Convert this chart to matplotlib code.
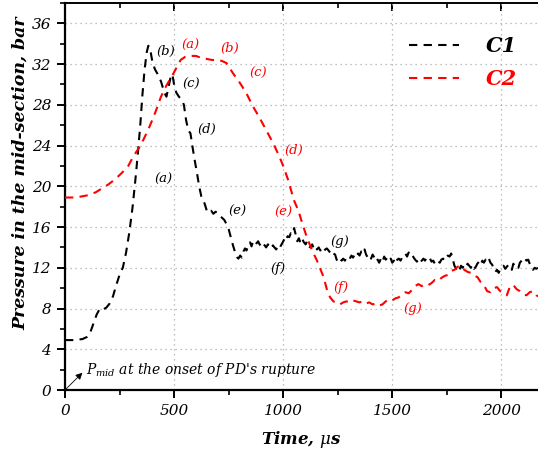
import numpy as np
import matplotlib
matplotlib.use("Agg")
import matplotlib.pyplot as plt
from matplotlib.ticker import MultipleLocator

plt.rcParams["mathtext.fontset"] = "dejavuserif"

# ---- data: mid-section pressure histories (time in microseconds, pressure in bar)
c1_time = [
    0, 40, 80, 100, 115, 130, 145, 160, 175, 190, 205, 220, 235, 250, 265, 280,
    295, 310, 322, 333, 345, 355, 365, 375, 382, 390, 400, 412, 425, 440, 455,
    465, 475, 485, 492, 500, 510, 522, 535, 545, 555, 565, 575, 585, 595, 605,
    615, 625, 640, 650, 660, 670, 680, 690, 700, 710, 720, 730, 740, 750, 760,
    770, 780, 790, 795, 803, 810, 818, 825, 832, 840, 848, 855, 862, 870, 878,
    885, 892, 900, 908, 915, 922, 930, 938, 945, 953, 960, 968, 975, 983, 990,
    998, 1005, 1012, 1020, 1028, 1035, 1042, 1050, 1058, 1065, 1072, 1080, 1088,
    1095, 1103, 1110, 1118, 1125, 1133, 1140, 1148, 1155, 1163, 1170, 1178, 1185,
    1193, 1200, 1208, 1215, 1222, 1230, 1238, 1245, 1252, 1260, 1268, 1275, 1283,
    1290, 1298, 1305, 1313, 1320, 1328, 1335, 1343, 1350, 1358, 1365, 1373, 1380,
    1388, 1395, 1403, 1410, 1418, 1425, 1433, 1440, 1448, 1455, 1463, 1470, 1478,
    1485, 1493, 1500, 1508, 1515, 1523, 1530, 1538, 1545, 1553, 1560, 1568, 1575,
    1583, 1590, 1598, 1605, 1613, 1620, 1628, 1635, 1643, 1650, 1658, 1665, 1673,
    1680, 1688, 1695, 1703, 1710, 1718, 1725, 1733, 1740, 1748, 1755, 1763, 1770,
    1778, 1785, 1793, 1800, 1808, 1815, 1823, 1830, 1838, 1845, 1853, 1860, 1868,
    1875, 1883, 1890, 1898, 1905, 1913, 1920, 1928, 1935, 1943, 1950, 1958, 1965,
    1973, 1980, 1988, 1995, 2003, 2010, 2018, 2025, 2033, 2040, 2048, 2055, 2063,
    2070, 2078, 2085, 2093, 2100, 2108, 2115, 2123, 2130, 2138, 2145, 2153, 2160,
    2168,
]
c1_pressure = [
    4.9, 4.9, 5.0, 5.2, 5.6, 6.5, 7.4, 8.0, 7.9, 8.1, 8.5, 9.2, 10.3, 11.3, 12.0, 13.5,
    15.5, 18.0, 20.5, 23.0, 26.0, 29.0, 31.5, 33.2, 33.8, 33.5, 32.3, 31.5, 31.0, 30.3, 29.2,
    28.8, 29.8, 30.8, 31.0, 30.0, 29.2, 28.8, 28.5, 28.0, 26.5, 25.5, 25.2, 23.8, 22.5, 21.3,
    20.0, 19.0, 18.3, 17.6, 17.4, 17.6, 17.3, 17.5, 17.4, 17.1, 16.9, 16.7, 16.3, 15.8, 15.0,
    14.2, 13.5, 13.0, 12.9, 13.2, 13.0, 13.6, 13.9, 13.7, 14.2, 14.5, 14.1, 14.6, 14.7, 14.4,
    14.6, 14.3, 14.1, 14.4, 14.2, 14.0, 14.3, 14.1, 13.9, 14.2, 14.0, 13.8, 14.1, 13.9, 14.2,
    14.5, 14.8, 14.6, 15.1, 15.0, 15.4, 15.3, 15.9, 15.2, 14.6, 14.9, 14.4, 14.8,
    14.5, 14.3, 14.6, 14.1, 14.0, 14.3, 13.9, 14.1, 13.8, 14.0, 13.7, 13.9, 13.6,
    13.8, 13.9, 13.7, 13.5, 13.7, 13.4, 13.3, 12.8, 12.6, 12.9, 12.7, 12.9, 12.7,
    13.0, 13.1, 12.9, 13.2, 13.0, 13.3, 13.1, 13.4, 13.2, 13.6, 13.4, 13.8, 13.3,
    13.0, 13.2, 12.9, 13.3, 13.0, 12.6, 12.8, 12.5, 12.9, 12.6, 13.1, 12.8, 13.0,
    12.7, 12.9, 12.5, 12.7, 12.4, 12.8, 12.9, 12.7, 13.0, 13.2, 13.4, 13.1, 13.5,
    13.3, 13.4, 13.0, 12.8, 12.6, 12.8, 12.5, 12.7, 12.9, 12.7, 13.0, 12.8, 12.9,
    12.6, 12.7, 12.4, 12.3, 12.6, 12.5, 12.8, 12.9, 12.7, 13.0, 13.2, 13.1, 13.4,
    12.8, 12.2, 11.9, 12.1, 11.8, 12.2, 12.0, 12.3, 12.1, 12.4, 12.2, 12.0, 12.3,
    11.9, 12.1, 12.4, 12.6, 12.3, 12.7, 12.5, 12.8, 12.6, 12.9, 12.5, 12.3, 11.9,
    11.6, 11.8, 11.5, 11.9, 12.0, 12.2, 11.9, 12.1, 12.3, 12.0, 11.8, 12.4, 12.1,
    12.2, 12.0, 12.5, 12.7, 12.6, 12.9, 12.7, 12.8, 12.4, 12.0, 11.8, 12.0, 11.9,
    12.0,
]

c2_time = [
    0, 50, 100, 140, 170, 200, 230, 260, 290, 315, 340, 360, 380, 400, 420, 440,
    465, 490, 510, 530, 550, 575, 600, 625, 650, 675, 700, 720, 740, 770, 800,
    830, 860, 890, 910, 940, 955, 985, 1000, 1020, 1050, 1070, 1090, 1110, 1135,
    1155, 1185, 1200, 1215, 1230, 1245, 1260, 1275, 1290, 1305, 1320, 1335, 1350,
    1365, 1380, 1395, 1410, 1425, 1440, 1455, 1470, 1485, 1500, 1515, 1530, 1545,
    1560, 1575, 1590, 1605, 1620, 1635, 1650, 1665, 1680, 1695, 1710, 1725, 1740,
    1755, 1770, 1785, 1800, 1815, 1830, 1845, 1860, 1875, 1890, 1905, 1920, 1935,
    1950, 1965, 1980, 1995, 2010, 2025, 2040, 2055, 2070, 2085, 2100, 2115, 2130,
    2145, 2160, 2170,
]
c2_pressure = [
    18.9, 18.9, 19.1, 19.4, 19.8, 20.2, 20.7, 21.3, 22.0, 23.0, 23.8, 24.6, 25.5, 26.5, 27.6, 28.8,
    29.9, 30.8, 31.6, 32.4, 32.7, 32.8, 32.8, 32.6, 32.5, 32.4, 32.4, 32.3, 32.1, 31.1, 30.2,
    29.2, 27.9, 26.8, 26.0, 24.8, 24.2, 22.8, 22.0, 20.8, 18.6, 17.6, 16.2, 14.9, 13.6,
    12.7, 11.1, 9.9, 9.1, 8.7, 8.6, 8.4, 8.6, 8.7, 8.6, 8.8, 8.7, 8.6,
    8.7, 8.5, 8.6, 8.4, 8.5, 8.3, 8.4, 8.7, 8.9, 8.8, 9.0, 9.1, 9.4,
    9.6, 9.5, 9.8, 10.2, 10.4, 10.2, 10.4, 10.3, 10.5, 10.8, 10.7, 11.0, 11.2,
    11.3, 11.7, 11.8, 12.1, 12.2, 11.8, 11.6, 11.5, 11.2, 11.1, 10.6, 10.3, 9.7,
    9.6, 10.0, 10.1, 9.7, 9.5, 9.3, 10.2, 10.3, 9.9, 9.7, 9.4, 9.3, 9.6,
    9.7, 9.3, 9.2,
]

# stage labels (a)-(g) placed along each curve: (text, time, pressure)
c1_stage_labels = [
    ("(a)", 450, 20.7), ("(b)", 463, 33.2), ("(c)", 578, 30.0), ("(d)", 651, 25.6),
    ("(e)", 789, 17.5), ("(f)", 977, 11.9), ("(g)", 1261, 14.6),
]
c2_stage_labels = [
    ("(a)", 573, 33.8), ("(b)", 757, 33.5), ("(c)", 885, 31.1), ("(d)", 1050, 23.5),
    ("(e)", 1000, 17.4), ("(f)", 1266, 10.1), ("(g)", 1596, 8.0),
]

series_names = ["C1", "C2"]
series_colors = ["black", "red"]

SERIF = "DejaVu Serif"

fig = plt.figure(figsize=(5.38, 4.49), dpi=100)
ax = fig.add_axes([0.1208, 0.1314, 0.8792, 0.8620])

dash = (0, (4, 3))
ax.plot(c1_time, c1_pressure, color=series_colors[0], lw=1.5, ls=dash,
        label=series_names[0], zorder=3)
ax.plot(c2_time, c2_pressure, color=series_colors[1], lw=1.5, ls=dash,
        label=series_names[1], zorder=3)

for txt, t, p in c1_stage_labels:
    ax.text(t, p, txt, color="black", fontsize=9.5, style="italic", family=SERIF,
            ha="center", va="center", zorder=4)
for txt, t, p in c2_stage_labels:
    ax.text(t, p, txt, color="red", fontsize=9.5, style="italic", family=SERIF,
            ha="center", va="center", zorder=4)

ax.set_xlim(0, 2168)
ax.set_ylim(0, 38)

ax.xaxis.set_major_locator(MultipleLocator(500))
ax.xaxis.set_minor_locator(MultipleLocator(250))
ax.yaxis.set_major_locator(MultipleLocator(4))
ax.yaxis.set_minor_locator(MultipleLocator(2))

ax.grid(True, which="major", color="#aaaaaa", lw=0.9, ls=(0, (1, 3)))
ax.set_axisbelow(True)

for side in ("left", "bottom"):
    ax.spines[side].set_linewidth(1.6)
ax.spines["top"].set_linewidth(1.2)
ax.spines["right"].set_visible(False)

ax.tick_params(axis="both", which="major", direction="out", length=6, width=1.4,
               labelsize=11, pad=4)
ax.tick_params(axis="both", which="minor", direction="out", length=3.5, width=1.2)
ax.tick_params(axis="x", which="both", top=False)

# top ticks point inward
sec = ax.secondary_xaxis("top")
sec.xaxis.set_major_locator(MultipleLocator(500))
sec.xaxis.set_minor_locator(MultipleLocator(250))
sec.tick_params(which="major", direction="in", length=6, width=1.4, labeltop=False)
sec.tick_params(which="minor", direction="in", length=3.5, width=1.2)
sec.spines["top"].set_linewidth(1.2)

for lab in ax.get_xticklabels() + ax.get_yticklabels():
    lab.set_family(SERIF)
    lab.set_style("italic")

ax.set_xlabel(r"Time, $\mu$s", family=SERIF, style="italic", weight="bold",
              fontsize=12, labelpad=8)
ax.set_ylabel("Pressure in the mid-section, bar", family=SERIF, style="italic",
              weight="bold", fontsize=12.5)
ax.yaxis.set_label_coords(-0.076, 0.56)

# onset annotation
ax.annotate("", xy=(80, 1.7), xytext=(0, 0),
            arrowprops=dict(arrowstyle="-|>", color="black", lw=0.6,
                            mutation_scale=10, shrinkA=0, shrinkB=0))
ax.text(98, 2.0, r"$\mathit{P}_{\mathit{mid}}$ at the onset of PD's rupture",
        family=SERIF, style="italic", fontsize=10, ha="left", va="center")

leg = ax.legend(loc="upper right", bbox_to_anchor=(0.995, 0.962), frameon=False,
                handlelength=2.4, handletextpad=1.3, labelspacing=0.6,
                prop=dict(family=SERIF, style="italic", weight="bold", size=15))
for txt, col in zip(leg.get_texts(), series_colors):
    txt.set_color(col)

fig.savefig("out.png", dpi=100)
